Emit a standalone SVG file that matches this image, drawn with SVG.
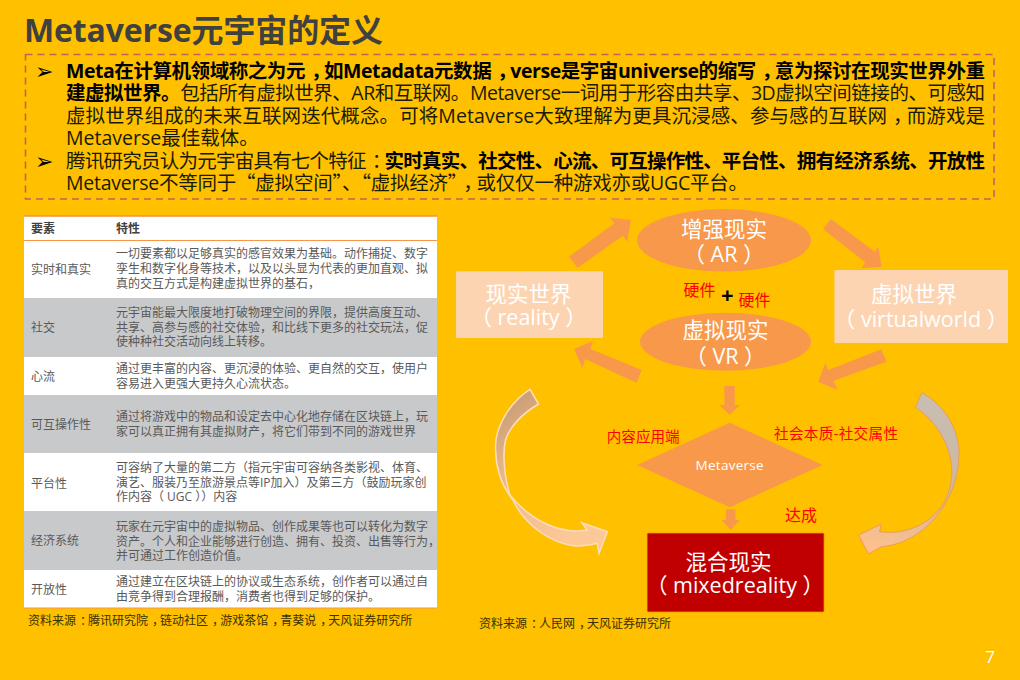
<svg xmlns="http://www.w3.org/2000/svg" width="1020" height="680" viewBox="0 0 1020 680">
<style>
text{font-family:"Open Sans","Noto Sans","Noto Sans CJK SC",sans-serif}
.title{font-size:32px;font-weight:700;fill:#404040}
.body{font-size:19.5px;fill:#1a1a00}
.b{font-weight:700;fill:#000}
.cjk{font-family:"Noto Sans CJK SC",sans-serif}
.bullet{font-family:"DejaVu Sans",sans-serif;font-size:22px;fill:#000}
.cell{font-size:12px;fill:#595959}
.head{font-size:12px;font-weight:700;fill:#404040}
.src{font-size:12px;fill:#3a3000}
.white{fill:#fff;text-anchor:middle}
.n{font-size:21.5px}
.red{fill:#f00}
.arrow{fill:#F8984A}
.gray{fill:#C8C9CB}
</style>
<defs>
<linearGradient id="gl" x1="0" y1="0" x2="0.5" y2="1"><stop offset="0" stop-color="#C29670"/><stop offset="0.45" stop-color="#E8B88A"/><stop offset="1" stop-color="#FDC898"/></linearGradient>
<linearGradient id="gr" x1="0.5" y1="0" x2="0.3" y2="1"><stop offset="0" stop-color="#C8BEB2"/><stop offset="0.5" stop-color="#CDB79E"/><stop offset="1" stop-color="#FFC08E"/></linearGradient>
</defs>
<rect width="1020" height="680" fill="#FFC000"/>
<text class="title" x="24" y="42" textLength="359">Metaverse元宇宙的定义</text>
<g id="intro">
<rect x="25.5" y="54.5" width="968.500" height="144.500" fill="none" stroke="#C4605A" stroke-width="1.6" stroke-dasharray="7 5"/>
<text class="bullet" x="35" y="79">➢</text>
<text class="bullet" x="35" y="169">➢</text>
<text class="body" x="66" y="78" textLength="919"><tspan class="b">Meta在计算机领域称之为元<tspan dx="6 -6">，如</tspan>Metadata元数据<tspan dx="6 -6">，v</tspan>erse是宇宙universe的缩写<tspan dx="6 -6">，意</tspan>为探讨在现实世界外重</tspan></text>
<text class="body" x="66" y="100" textLength="919"><tspan class="b">建虚拟世界。</tspan>包括所有虚拟世界、AR和互联网。Metaverse一词用于形容由共享、3D虚拟空间链接的、可感知</text>
<text class="body" x="66" y="122.500" textLength="919">虚拟世界组成的未来互联网迭代概念。可将Metaverse大致理解为更具沉浸感、参与感的互联网<tspan dx="6 -6">，而</tspan>游戏是</text>
<text class="body" x="66" y="144.500">Metaverse最佳载体。</text>
<text class="body" x="66" y="167.500" textLength="919">腾讯研究员认为元宇宙具有七个特征<tspan dx="6 -6">：</tspan><tspan class="b" dx="-6 0">实时真实、社交性、心流、可互操作性、平台性、拥有经济系统、开放性</tspan></text>
<text class="body" x="66" y="189.500" textLength="682">Metaverse不等同于<tspan class="cjk">“虚拟空间”、“虚拟经济”<tspan dx="6 -6">，或</tspan></tspan>仅仅一种游戏亦或UGC平台。</text>
</g>
<g id="table">
<rect x="24" y="216" width="413" height="392" fill="#fff"/>
<rect class="gray" x="24" y="298" width="413" height="59"/>
<rect class="gray" x="24" y="395" width="413" height="58"/>
<rect class="gray" x="24" y="511" width="413" height="59"/>
<rect x="24" y="215" width="413" height="1.800" fill="#F79646"/>
<rect x="24" y="240" width="413" height="1" fill="#F79646"/>
<rect x="24" y="607.500" width="413" height="1" fill="#F79646"/>
<text class="head" x="31" y="233">要素</text><text class="head" x="116" y="233">特性</text>
<text class="cell" x="31" y="274">实时和真实</text>
<text class="cell" x="116" y="258">一切要素都以足够真实的感官效果为基础。动作捕捉、数字</text>
<text class="cell" x="116" y="273">孪生和数字化身等技术，以及以头显为代表的更加直观、拟</text>
<text class="cell" x="116" y="288">真的交互方式是构建虚拟世界的基石，</text>
<text class="cell" x="31" y="332">社交</text>
<text class="cell" x="116" y="317">元宇宙能最大限度地打破物理空间的界限，提供高度互动、</text>
<text class="cell" x="116" y="332">共享、高参与感的社交体验，和比线下更多的社交玩法，促</text>
<text class="cell" x="116" y="346">使种种社交活动向线上转移。</text>
<text class="cell" x="31" y="381">心流</text>
<text class="cell" x="116" y="373">通过更丰富的内容、更沉浸的体验、更自然的交互，使用户</text>
<text class="cell" x="116" y="388">容易进入更强大更持久心流状态。</text>
<text class="cell" x="31" y="429">可互操作性</text>
<text class="cell" x="116" y="421">通过将游戏中的物品和设定去中心化地存储在区块链上，玩</text>
<text class="cell" x="116" y="436">家可以真正拥有其虚拟财产，将它们带到不同的游戏世界</text>
<text class="cell" x="31" y="488">平台性</text>
<text class="cell" x="116" y="472">可容纳了大量的第二方（指元宇宙可容纳各类影视、体育、</text>
<text class="cell" x="116" y="487">演艺、服装乃至旅游景点等IP加入）及第三方（鼓励玩家创</text>
<text class="cell" x="116" y="501">作内容（ UGC ））内容</text>
<text class="cell" x="31" y="545">经济系统</text>
<text class="cell" x="116" y="531">玩家在元宇宙中的虚拟物品、创作成果等也可以转化为数字</text>
<text class="cell" x="116" y="546">资产。个人和企业能够进行创造、拥有、投资、出售等行为，</text>
<text class="cell" x="116" y="560">并可通过工作创造价值。</text>
<text class="cell" x="31" y="594">开放性</text>
<text class="cell" x="116" y="586">通过建立在区块链上的协议或生态系统，创作者可以通过自</text>
<text class="cell" x="116" y="601">由竞争得到合理报酬，消费者也得到足够的保护。</text>
</g>
<text class="src" x="28" y="625">资料来源<tspan dx="4 -4">：腾</tspan>讯研究院<tspan dx="4 -4">，链</tspan>动社区<tspan dx="4 -4">，游</tspan>戏茶馆<tspan dx="4 -4">，青</tspan>葵说<tspan dx="4 -4">，天</tspan>风证券研究所</text>
<g id="connectors">
<polygon class="arrow" points="569,256.700 577.700,267.700 622.900,235.700 627.300,241.700 630.900,220 610,217.700 614.400,223.300"/>
<polygon class="arrow" points="830.800,219 823,229 865.200,262.300 861.600,268.300 881.700,266.700 878.400,246.700 874.800,251.700"/>
<polygon class="arrow" points="881.400,349.300 828.200,370 825.300,362.700 818.300,381.700 837.400,390 833.700,380.700 886.500,361.700"/>
<polygon class="arrow" points="641.900,370 590.600,349 592.800,341 574.100,349 582.500,368.300 585.100,359 636.400,382.700"/>
<polygon class="arrow" points="724.400,386 734.700,386 734.700,405 739.800,405 729.600,415 719.300,405 724.400,405"/>
<polygon class="arrow" points="725.900,509.300 735.400,509.300 735.400,520 739.800,520 730.700,530 721.500,520 725.900,520"/>
<path d="M530,389.300 C510,402 494,428 495.600,450 C496,475 505,490 512.800,500 C525,525 550,543 575,546 C583,546.500 590,545 597.200,543.300 L599,553.300 L607.400,531.700 L581.800,522.700 L587.300,530 C560,535 530,520 510,495 C505,480 502,455 505.500,440 C510,425 525,412 538.500,404 Z" fill="url(#gl)" stroke="#FFDDBC" stroke-width="1.500"/>
<path d="M921.700,392.700 C945,405 959,430 959,453 C959,475 953,490 945.500,503 C930,530 905,545 881.400,546.700 L868.600,554 L858.600,535 L881.400,524 L879.600,531.700 C905,535 930,525 944,503 C950,490 952,480 951.800,470 C951,445 935,420 915.500,407.300 Z" fill="url(#gr)" stroke="#EC9C58" stroke-width="1"/>
</g>
<g id="node-ar"><ellipse cx="724" cy="240.300" rx="87" ry="31.300" fill="#F8984A"/><text class="white n" x="724" y="237">增强现实</text><text class="white n" x="724" y="262">（ AR ）</text></g>
<g id="node-vr"><ellipse cx="725.500" cy="341.700" rx="85.500" ry="29" fill="#F8984A"/><text class="white n" x="725.500" y="338">虚拟现实</text><text class="white n" x="725.500" y="364">（ VR ）</text></g>
<g id="node-reality"><rect x="456" y="271.300" width="147" height="66.700" rx="1" fill="#FDD4B2"/><text class="white n" x="528.600" y="302">现实世界</text><text class="white n" x="528.600" y="325">（ reality ）</text></g>
<g id="node-virtual"><rect x="834.400" y="270" width="173.600" height="73" rx="1" fill="#FDD4B2"/><text class="white n" x="914" y="302">虚拟世界</text><text class="white n" x="921" y="327">（ virtualworld ）</text></g>
<g id="node-metaverse"><polygon points="637.200,465 729.600,422.700 822.700,465 729.600,507.300" fill="#F8984A"/><text class="white" x="729.600" y="470" font-size="13.500" textLength="68">Metaverse</text></g>
<g id="node-mixed"><rect x="647.400" y="533.300" width="176.400" height="78.400" rx="1" fill="#C00000" stroke="#D8480A" stroke-width="0.600"/><text class="white n" x="728.500" y="570">混合现实</text><text class="white n" x="735" y="593">（ mixedreality ）</text></g>
<g id="labels">
<text class="red" x="683.400" y="295.700" font-size="16">硬件</text>
<text x="727.400" y="303" font-size="22" font-weight="700" text-anchor="middle" fill="#000">+</text>
<text class="red" x="738.400" y="306" font-size="16">硬件</text>
<text class="red" x="606.700" y="442" font-size="14.600">内容应用端</text>
<text class="red" x="774" y="439" font-size="14.600" textLength="124">社会本质-社交属性</text>
<text class="red" x="785" y="521" font-size="16">达成</text>
</g>
<text class="src" x="479" y="627.500">资料来源<tspan dx="4 -4">：人</tspan>民网<tspan dx="4 -4">，天</tspan>风证券研究所</text>
<text x="990" y="662.500" font-size="17" text-anchor="middle" fill="#fff">7</text>
</svg>
